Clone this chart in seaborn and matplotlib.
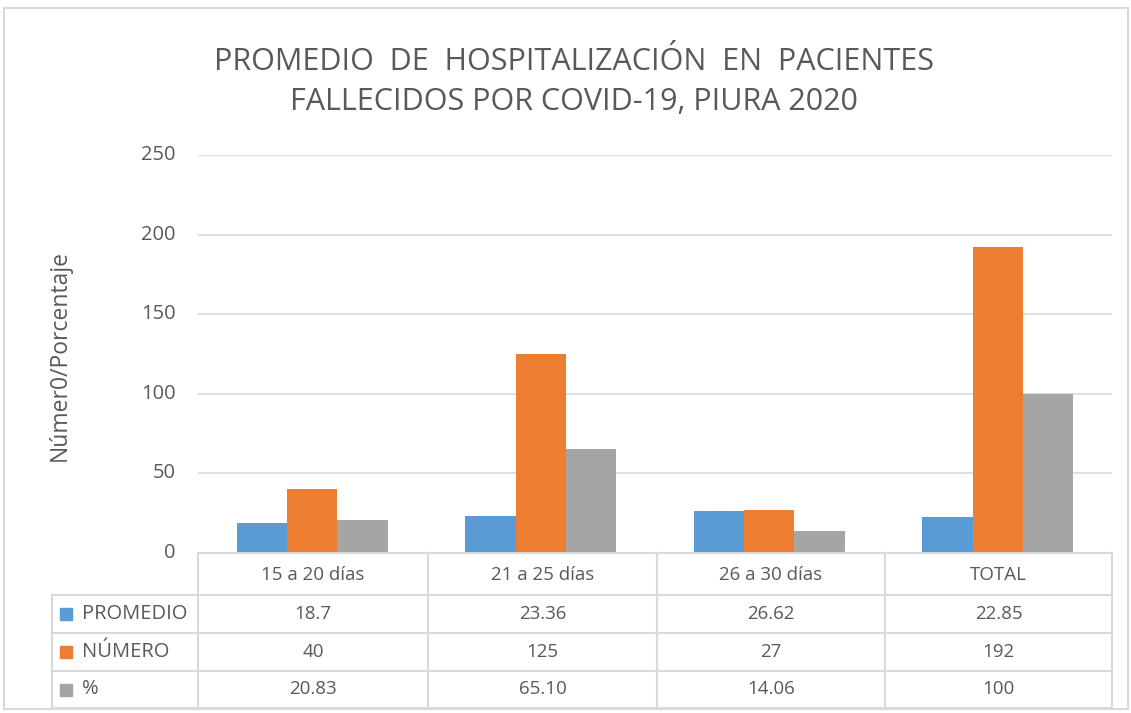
import pandas as pd
import numpy as np
import matplotlib.pyplot as plt
import seaborn as sns

# Data
categories = ["15 a 20 días", "21 a 25 días", "26 a 30 días", "TOTAL"]
series_names = ["PROMEDIO", "NÚMERO", "%"]
promedio = [18.7, 23.36, 26.62, 22.85]
numero = [40, 125, 27, 192]
porcentaje = [20.83, 65.10, 14.06, 100]
table_text = [
    ["18.7", "23.36", "26.62", "22.85"],
    ["40", "125", "27", "192"],
    ["20.83", "65.10", "14.06", "100"],
]
colors = ["#5B9BD5", "#ED7D31", "#A5A5A5"]

df = pd.DataFrame({
    "cat": categories * 3,
    "serie": [s for s in series_names for _ in categories],
    "valor": promedio + numero + porcentaje,
})

sns.set_theme(style="white")
plt.rcParams["font.family"] = ["Open Sans", "DejaVu Sans"]
txt = "#595959"
grid_c = "#D9D9D9"

W, H = 1131, 713
fig = plt.figure(figsize=(W / 100, H / 100), dpi=100)

def fx(px):
    return px / W

def fy(py):
    return 1 - py / H

# plot area
x0, x1, ytop, ybot = 198, 1112, 155, 553
ax = fig.add_axes([fx(x0), fy(ybot), fx(x1) - fx(x0), fy(ytop) - fy(ybot)])
sns.barplot(data=df, x="cat", y="valor", hue="serie", palette=colors,
            saturation=1, width=0.66, ax=ax, legend=False, linewidth=0)
ax.set_ylim(0, 250)
ax.set_xlim(-0.5, 3.5)
ax.set_yticks([0, 50, 100, 150, 200, 250])
ax.set_yticklabels(["0", "50", "100", "150", "200", "250"], color=txt, fontsize=14.5)
ax.tick_params(axis="y", length=0, pad=16)
ax.set_xticks([])
ax.set_xlabel("")
ax.set_ylabel("")
ax.yaxis.grid(True, color=grid_c, linewidth=1.2)
ax.set_axisbelow(True)
for s in ax.spines.values():
    s.set_visible(False)
for lab in ax.get_yticklabels():
    lab.set_verticalalignment("center")

# title and y label
fig.text(fx(574), fy(62), "PROMEDIO  DE  HOSPITALIZACIÓN  EN  PACIENTES",
         ha="center", va="center", fontsize=22, color=txt)
fig.text(fx(574), fy(102), "FALLECIDOS POR COVID-19, PIURA 2020",
         ha="center", va="center", fontsize=22, color=txt)
fig.text(fx(60), fy(355), "Númer0/Porcentaje", rotation=90,
         ha="center", va="center", fontsize=16.5, color=txt)

# data table
col_edges = [198, 428, 657, 885, 1112]
row_edges = [553, 595, 633, 671, 708]
lw = 1.5
# horizontal lines
fig.add_artist(plt.Line2D([fx(198), fx(1112)], [fy(553), fy(553)], color=grid_c, lw=lw))
for r in row_edges[1:]:
    fig.add_artist(plt.Line2D([fx(52), fx(1112)], [fy(r), fy(r)], color=grid_c, lw=lw))
# vertical lines
fig.add_artist(plt.Line2D([fx(52), fx(52)], [fy(595), fy(708)], color=grid_c, lw=lw))
for c in col_edges:
    fig.add_artist(plt.Line2D([fx(c), fx(c)], [fy(553), fy(708)], color=grid_c, lw=lw))

for i, cat in enumerate(categories):
    cx = (col_edges[i] + col_edges[i + 1]) / 2
    fig.text(fx(cx), fy(575), cat, ha="center", va="center", fontsize=13.5, color=txt)
    for j in range(3):
        cy = (row_edges[j + 1] + row_edges[j + 2]) / 2
        fig.text(fx(cx), fy(cy), table_text[j][i], ha="center", va="center",
                 fontsize=13.5, color=txt)

for j, name in enumerate(series_names):
    cy = (row_edges[j + 1] + row_edges[j + 2]) / 2
    fig.add_artist(plt.Rectangle((fx(60), fy(cy + 6)), fx(12), fy(0) - fy(12),
                                 color=colors[j], transform=fig.transFigure))
    fig.text(fx(82), fy(cy), name, ha="left", va="center", fontsize=14.5, color=txt)

# outer chart border
fig.add_artist(plt.Rectangle((fx(4), fy(709)), fx(1124), fy(0) - fy(701),
                             fill=False, edgecolor=grid_c, lw=1.5,
                             transform=fig.transFigure))

plt.savefig("out.png", dpi=100)
